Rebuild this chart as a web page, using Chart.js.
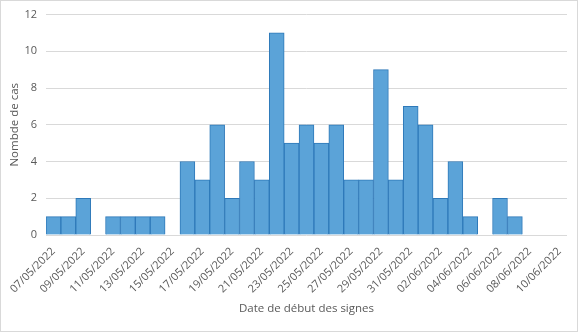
<!DOCTYPE html>
<html>
<head>
<meta charset="utf-8">
<script src="https://cdn.jsdelivr.net/npm/chart.js@4"></script>
<style>
  html, body { margin: 0; padding: 0; background: #fff; }
  #wrap { width: 578px; height: 332px; }
</style>
</head>
<body>
<div id="wrap"><canvas id="casChart" width="578" height="332"></canvas></div>
<script>
// jours du 07/05/2022 au 10/06/2022
const jours = [
  '07/05/2022', '08/05/2022', '09/05/2022', '10/05/2022', '11/05/2022', '12/05/2022', '13/05/2022',
  '14/05/2022', '15/05/2022', '16/05/2022', '17/05/2022', '18/05/2022', '19/05/2022', '20/05/2022',
  '21/05/2022', '22/05/2022', '23/05/2022', '24/05/2022', '25/05/2022', '26/05/2022', '27/05/2022',
  '28/05/2022', '29/05/2022', '30/05/2022', '31/05/2022', '01/06/2022', '02/06/2022', '03/06/2022',
  '04/06/2022', '05/06/2022', '06/06/2022', '07/06/2022', '08/06/2022', '09/06/2022', '10/06/2022'
];
const nbCas = [
  1, 1, 2, 0, 1, 1, 1,
  1, 0, 4, 3, 6, 2, 4,
  3, 11, 5, 6, 5, 6, 3,
  3, 9, 3, 7, 6, 2, 4,
  1, 0, 2, 1, 0, 0, 0
];
const yTicks = [0, 2, 4, 6, 8, 10, 12];

const fonte = "'Open Sans', 'Liberation Sans', sans-serif";
const gris = '#595959';

// cadre gris autour du graphique
const cadre = {
  id: 'cadre',
  beforeDraw(chart) {
    const ctx = chart.ctx;
    ctx.save();
    ctx.fillStyle = '#fff';
    ctx.fillRect(0, 0, chart.width, chart.height);
    ctx.strokeStyle = '#d9d9d9';
    ctx.lineWidth = 1;
    ctx.strokeRect(0.5, 0.5, chart.width - 1, chart.height - 1);
    ctx.restore();
  }
};

new Chart(document.getElementById('casChart').getContext('2d'), {
  type: 'bar',
  data: {
    labels: jours,
    datasets: [{
      label: 'Nombre de cas',
      data: nbCas,
      backgroundColor: '#5BA3D8',
      borderColor: '#2E79B9',
      borderWidth: 1,
      barPercentage: 1,
      categoryPercentage: 1
    }]
  },
  options: {
    responsive: false,
    animation: false,
    layout: { padding: { left: 8, right: 11, top: 8, bottom: 16 } },
    plugins: {
      legend: { display: false },
      tooltip: { enabled: false }
    },
    scales: {
      x: {
        grid: { display: false },
        border: { display: false },
        ticks: {
          autoSkip: false,
          minRotation: 45,
          maxRotation: 45,
          color: gris,
          font: { family: fonte, size: 11 },
          padding: 2,
          callback: function (val, i) {
            return i % 2 === 0 ? jours[i] : '';
          }
        },
        title: {
          display: true,
          text: 'Date de début des signes',
          color: gris,
          font: { family: fonte, size: 11.5 },
          padding: { top: 6, bottom: 0 }
        },
        afterFit(scale) { scale.height = 81; }
      },
      y: {
        min: 0,
        max: 12,
        afterBuildTicks(scale) { scale.ticks = yTicks.map(v => ({ value: v })); },
        grid: { color: '#d9d9d9', drawTicks: false },
        border: { display: false },
        ticks: {
          color: gris,
          font: { family: fonte, size: 11, lineHeight: 1 },
          padding: 9
        },
        title: {
          display: true,
          text: 'Nombde de cas',
          color: gris,
          font: { family: fonte, size: 11.5 },
          padding: { top: 0, bottom: 4 }
        },
        afterFit(scale) { scale.width = 38; }
      }
    }
  },
  plugins: [cadre]
});
</script>
</body>
</html>
